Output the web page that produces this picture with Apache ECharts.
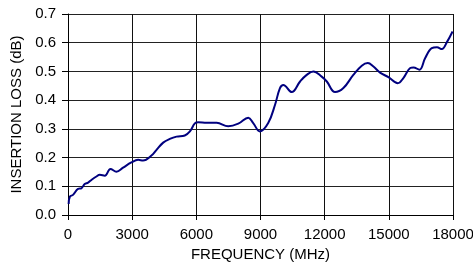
<!DOCTYPE html>
<html>
<head>
<meta charset="utf-8">
<script src="https://cdn.jsdelivr.net/npm/echarts@6/dist/echarts.min.js"></script>
<style>
  html, body { margin: 0; padding: 0; background: #fff; }
  #main { width: 473px; height: 264px; }
</style>
</head>
<body>
<div id="main"></div>
<script>
// frequency in MHz, insertion loss in dB
const freq = [30, 90, 235, 470, 625, 780, 940, 1095, 1330, 1485, 1720, 1985, 2265, 2575, 2965,
  3280, 3510, 3900, 4140, 4450, 4760, 5075, 5460, 5700, 5930, 6090, 6480, 6950, 7490, 7960,
  8430, 8660, 8975, 9360, 9680, 9910, 10065, 10460, 10850, 11160, 11470, 11860, 12100, 12485,
  12875, 13340, 13735, 14015, 14280, 14590, 14980, 15420, 15680, 16000, 16150, 16430, 16700,
  17010, 17250, 17480, 17715, 17980];
const loss = [0.038, 0.064, 0.070, 0.091, 0.093, 0.108, 0.113, 0.122, 0.134, 0.140, 0.137, 0.160,
  0.151, 0.165, 0.183, 0.192, 0.190, 0.207, 0.227, 0.252, 0.265, 0.273, 0.277, 0.291, 0.319,
  0.323, 0.321, 0.321, 0.309, 0.318, 0.339, 0.320, 0.291, 0.320, 0.384, 0.442, 0.453, 0.428,
  0.465, 0.488, 0.500, 0.482, 0.465, 0.428, 0.442, 0.488, 0.520, 0.529, 0.517, 0.496, 0.480,
  0.459, 0.477, 0.512, 0.514, 0.506, 0.547, 0.581, 0.584, 0.578, 0.602, 0.639];

const points = freq.map((f, i) => [f, loss[i]]);

let myChart = echarts.init(document.getElementById('main'));
const font = 'Liberation Sans';
myChart.setOption({
  animation: false,
  grid: { left: 68, right: 20, top: 14, bottom: 49, containLabel: false, outerBoundsMode: 'none' },
  xAxis: {
    type: 'value',
    min: 0,
    max: 18000,
    interval: 3000,
    name: 'FREQUENCY (MHz)',
    nameLocation: 'middle',
    nameGap: 31,
    nameTextStyle: { color: '#000', fontFamily: font, fontSize: 15 },
    axisLine: { lineStyle: { color: '#000', width: 1 } },
    axisTick: { show: true, length: 5, lineStyle: { color: '#000' } },
    axisLabel: {
      color: '#000', fontFamily: font, fontSize: 15, margin: 12,
      formatter: v => String(v)
    },
    splitLine: { show: true, lineStyle: { color: '#111', width: 1 } }
  },
  yAxis: {
    type: 'value',
    min: 0,
    max: 0.7,
    interval: 0.1,
    name: 'INSERTION LOSS (dB)',
    nameLocation: 'middle',
    nameGap: 34,
    nameTextStyle: { color: '#000', fontFamily: font, fontSize: 15 },
    axisLine: { show: true, lineStyle: { color: '#000', width: 1 } },
    axisTick: { show: true, length: 6, lineStyle: { color: '#000' } },
    axisLabel: {
      color: '#000', fontFamily: font, fontSize: 15, margin: 12,
      formatter: v => v.toFixed(1)
    },
    splitLine: { show: true, lineStyle: { color: '#222', width: 1 } }
  },
  series: [{
    type: 'line',
    data: points,
    smooth: 0.4,
    symbol: 'none',
    lineStyle: { color: '#00007f', width: 2 }
  }]
});
</script>
</body>
</html>
